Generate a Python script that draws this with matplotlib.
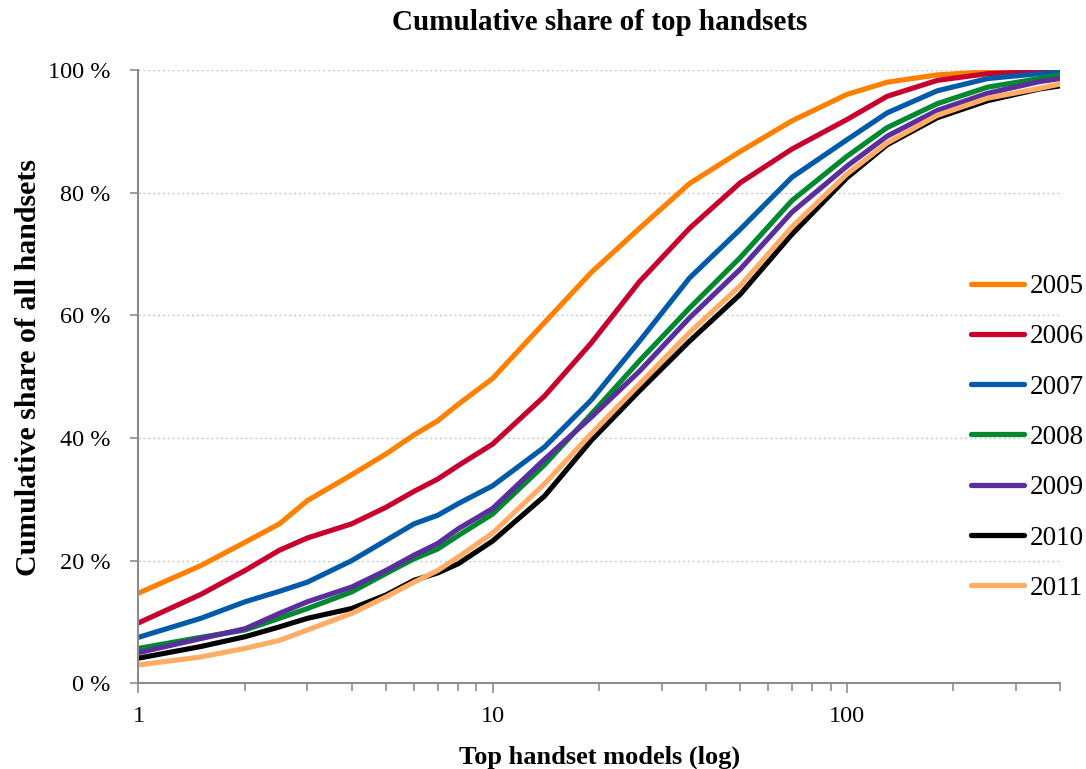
import matplotlib
matplotlib.use("Agg")
import matplotlib.pyplot as plt
from matplotlib.ticker import FixedLocator, LogLocator, NullFormatter

plt.rcParams['font.family'] = ['Liberation Serif', 'DejaVu Serif']

models = [1, 1.5, 2, 2.5, 3, 4, 5, 6, 7, 8, 10, 14, 19, 26, 36, 50, 70, 100, 130, 180, 250, 350, 400]

share_2005 = [14.7, 19.2, 23.0, 26.0, 29.8, 34.0, 37.4, 40.5, 42.8, 45.5, 49.7, 58.8, 67.0, 74.2, 81.5, 86.7, 91.7, 96.0, 98.0, 99.2, 99.7, 100.0, 100.0]
share_2006 = [9.85, 14.5, 18.4, 21.7, 23.7, 26.0, 28.7, 31.3, 33.3, 35.5, 39.0, 46.8, 55.5, 65.5, 74.2, 81.6, 87.1, 91.9, 95.7, 98.3, 99.4, 99.7, 99.8]
share_2007 = [7.5, 10.6, 13.3, 15.0, 16.5, 20.0, 23.3, 26.0, 27.4, 29.3, 32.2, 38.5, 46.2, 55.8, 66.1, 74.0, 82.5, 88.6, 93.0, 96.6, 98.6, 99.4, 99.6]
share_2008 = [5.7, 7.5, 8.7, 10.6, 12.2, 14.9, 17.9, 20.3, 21.9, 24.1, 27.6, 35.6, 43.9, 52.6, 61.2, 69.4, 78.7, 85.9, 90.6, 94.5, 97.2, 98.6, 99.2]
share_2009 = [5.0, 7.3, 8.9, 11.4, 13.3, 15.7, 18.4, 20.9, 22.8, 25.2, 28.5, 36.5, 43.4, 50.9, 59.6, 67.5, 76.8, 84.3, 89.2, 93.4, 96.2, 98.1, 98.6]
share_2010 = [4.1, 6.0, 7.6, 9.2, 10.6, 12.2, 14.4, 16.8, 18.0, 19.5, 23.2, 30.5, 39.6, 47.7, 55.8, 63.4, 73.2, 82.4, 87.8, 92.2, 95.0, 96.9, 97.4]
share_2011 = [3.0, 4.3, 5.7, 7.0, 8.7, 11.4, 14.1, 16.5, 18.4, 20.6, 24.5, 32.5, 40.7, 48.8, 57.2, 64.8, 74.4, 83.0, 88.1, 92.6, 95.4, 97.0, 97.7]

years = ['2005', '2006', '2007', '2008', '2009', '2010', '2011']
series = [share_2005, share_2006, share_2007, share_2008, share_2009, share_2010, share_2011]
colors = ['#FF8000', '#C8002E', '#005AAA', '#00892F', '#5A2E9C', '#000000', '#FFAD66']

y_ticks = [0, 20, 40, 60, 80, 100]
y_tick_labels = ['0 %', '20 %', '40 %', '60 %', '80 %', '100 %']
x_ticks = [1, 10, 100]
x_tick_labels = ['1', '10', '100']

fig = plt.figure(figsize=(10.86, 7.69), dpi=100)
ax = fig.add_axes([0.1275, 0.1114, 0.976 - 0.1275, 0.909 - 0.1114])

lines = []
for yr, vals, c in zip(years, series, colors):
    ln, = ax.plot(models, vals, color=c, lw=3.7, solid_joinstyle='round', solid_capstyle='round', label=yr)
    lines.append(ln)

ax.set_xscale('log')
ax.set_xlim(1, 400)
ax.set_ylim(0, 100)

ax.xaxis.set_major_locator(FixedLocator(x_ticks))
ax.set_xticklabels(x_tick_labels)
ax.xaxis.set_minor_locator(LogLocator(base=10, subs=range(2, 10), numticks=20))
ax.xaxis.set_minor_formatter(NullFormatter())
ax.set_yticks(y_ticks)
ax.set_yticklabels(y_tick_labels)

spine_c = '#8C8C8C'
for s in ['top', 'right']:
    ax.spines[s].set_visible(False)
for s in ['left', 'bottom']:
    ax.spines[s].set_color(spine_c)
    ax.spines[s].set_linewidth(1.5)

ax.tick_params(axis='both', which='both', direction='out', color=spine_c, width=1.2, length=6, labelsize=17.5)
ax.tick_params(axis='x', which='major', length=7, pad=9)
ax.tick_params(axis='y', which='major', pad=14)

for v in y_ticks[1:]:
    ax.axhline(v, color='#C8C8C8', lw=1.0, ls=(0, (1.5, 2)), zorder=0)

fig.text(0.5 * (0.1275 + 0.976), 1 - 22 / 769, 'Cumulative share of top handsets',
         fontsize=21, fontweight='bold', ha='center', va='center')
ax.set_xlabel('Top handset models (log)', fontsize=19, fontweight='bold', labelpad=14)
ax.set_ylabel('Cumulative share of all handsets', fontsize=21.5, fontweight='bold')
ax.yaxis.set_label_coords(-0.105, 0.515)

leg = fig.legend(handles=lines, labels=years, loc='upper left',
                 bbox_to_anchor=(971 / 1086, 1 - 274 / 769), frameon=False,
                 fontsize=19.5, handlelength=1.96, handletextpad=0.2,
                 labelspacing=0.935, borderpad=0, borderaxespad=0)
for h in leg.get_lines():
    h.set_linewidth(3.8)

fig.savefig('out.png', dpi=100)
